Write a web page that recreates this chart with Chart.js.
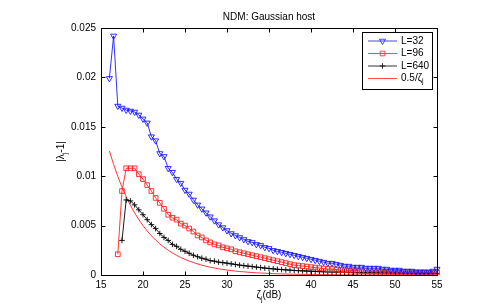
<!DOCTYPE html>
<html>
<head>
<meta charset="utf-8">
<script src="https://cdn.jsdelivr.net/npm/chart.js@4.4.0/dist/chart.umd.min.js"></script>
<style>
    html, body { margin: 0; padding: 0; background: #fff; }
    canvas { display: block; }
</style>
</head>
<body>
<canvas id="c" width="481" height="307"></canvas>
<script>
/* ==================== DATA ==================== */
const titleText = 'NDM: Gaussian host';

const zetaDb = [
    16, 16.5, 17, 17.5, 18, 18.5, 19, 19.5, 20, 20.5,
    21, 21.5, 22, 22.5, 23, 23.5, 24, 24.5, 25, 25.5,
    26, 26.5, 27, 27.5, 28, 28.5, 29, 29.5, 30, 30.5,
    31, 31.5, 32, 32.5, 33, 33.5, 34, 34.5, 35, 35.5,
    36, 36.5, 37, 37.5, 38, 38.5, 39, 39.5, 40, 40.5,
    41, 41.5, 42, 42.5, 43, 43.5, 44, 44.5, 45, 45.5,
    46, 46.5, 47, 47.5, 48, 48.5, 49, 49.5, 50, 50.5,
    51, 51.5, 52, 52.5, 53, 53.5, 54, 54.5, 55
];

const errL32 = [
    0.0199, 0.0242, 0.0171, 0.0169, 0.0167, 0.0166, 0.0165, 0.0162, 0.0158, 0.0154,
    0.0140, 0.0136, 0.0123, 0.0120, 0.0108, 0.0104, 0.0097, 0.0093, 0.0086, 0.0082,
    0.0076, 0.0071, 0.0067, 0.0063, 0.0059, 0.0055, 0.0051, 0.0048, 0.0045, 0.0042,
    0.0040, 0.0038, 0.0036, 0.0034, 0.0033, 0.0031, 0.0030, 0.0028, 0.0027, 0.0025,
    0.0024, 0.0023, 0.0022, 0.0021, 0.0020, 0.0019, 0.0018, 0.0017, 0.0016, 0.0015,
    0.0014, 0.0013, 0.0012, 0.0012, 0.0011, 0.0010, 0.0009, 0.0009, 0.0008, 0.0008,
    0.0008, 0.0007, 0.0007, 0.0007, 0.0007, 0.0006, 0.0006, 0.0005, 0.0005, 0.0005,
    0.0004, 0.0004, 0.0004, 0.0003, 0.0003, 0.0003, 0.0003, 0.0004, 0.0006
];

const errL96 = [
    null, null, 0.0021, 0.0085, 0.0108, 0.0108, 0.0108, 0.0102, 0.0097, 0.0091,
    0.0085, 0.0078, 0.0073, 0.0067, 0.0061, 0.0058, 0.0056, 0.0052, 0.0050, 0.0047,
    0.0044, 0.0040, 0.0038, 0.0035, 0.0033, 0.0031, 0.0030, 0.0028, 0.0027, 0.0026,
    0.0024, 0.0023, 0.0022, 0.0021, 0.0020, 0.0019, 0.0018, 0.0017, 0.0016, 0.0015,
    0.0014, 0.0013, 0.0012, 0.0011, 0.0010, 0.00095, 0.0009, 0.00085, 0.0008, 0.00075,
    0.0007, 0.00065, 0.0006, 0.0006, 0.00055, 0.0005, 0.0005, 0.00047, 0.00045, 0.00042,
    0.0004, 0.00039, 0.00037, 0.00036, 0.00035, 0.00034, 0.00033, 0.00032, 0.00031, 0.0003,
    0.0003, 0.00029, 0.00028, 0.00028, 0.00027, 0.00027, 0.00026, 0.00026, 0.00025
];

const errL640 = [
    null, null, null, 0.0035, 0.0076, 0.0075, 0.0071, 0.0066, 0.0061, 0.0056,
    0.0051, 0.0047, 0.0042, 0.0038, 0.0035, 0.0031, 0.0029, 0.0026, 0.0024, 0.0022,
    0.0020, 0.00185, 0.0017, 0.0016, 0.00145, 0.0014, 0.0013, 0.00125, 0.0012, 0.00113,
    0.00107, 0.0010, 0.00095, 0.0009, 0.00085, 0.0008, 0.00075, 0.0007, 0.00066, 0.00062,
    0.00058, 0.00055, 0.00052, 0.00049, 0.00046, 0.00044, 0.00042, 0.0004, 0.00038, 0.00036,
    0.00034, 0.00033, 0.00032, 0.00031, 0.0003, 0.00029, 0.00028, 0.00027, 0.00026, 0.00025,
    0.00024, 0.00023, 0.00023, 0.00022, 0.00022, 0.00021, 0.00021, 0.0002, 0.0002, 0.0002,
    0.00019, 0.00019, 0.00018, 0.00018, 0.00018, 0.00017, 0.00017, 0.00017, 0.00016
];

// reference curve 0.5/zeta_j
const halfOverZeta = [
    0.01256, 0.0112, 0.00998, 0.00889, 0.00792, 0.00706, 0.00629, 0.00561, 0.0050, 0.00446,
    0.00397, 0.00354, 0.00315, 0.00281, 0.00251, 0.00223, 0.00199, 0.00177, 0.00158, 0.00141,
    0.00126, 0.00112, 0.0010, 0.00089, 0.00079, 0.00071, 0.00063, 0.00056, 0.0005, 0.00045,
    0.0004, 0.00035, 0.00032, 0.00028, 0.00025, 0.00022, 0.0002, 0.00018, 0.00016, 0.00014,
    0.00013, 0.00011, 0.0001, 0.00009, 0.00008, 0.00007, 0.00006, 0.00006, 0.00005, 0.00004,
    0.00004, 0.00004, 0.00003, 0.00003, 0.00003, 0.00002, 0.00002, 0.00002, 0.00002, 0.00001,
    0.00001, 0.00001, 0.00001, 0.00001, 0.00001, 0.00001, 0.00001, 0.00001, 0.00001, 0.00001,
    0.00001, 0.00001, 0.00001, 0.00001, 0.00001, 0.00001, 0.00001, 0.00001, 0.00001
];

const xTickValues = [15, 20, 25, 30, 35, 40, 45, 50, 55];
const yTickValues = [0, 0.005, 0.01, 0.015, 0.02, 0.025];

/* ==================== HELPERS ==================== */
const FONT = "'Liberation Sans', Arial, Helvetica, sans-serif";
const BLUE = '#1a1aff';
const RED = '#ff2020';
const BLACK = '#000';

function toPoints(vals) {
    return zetaDb.map((z, i) => ({ x: z, y: vals[i] })).filter((p) => p.y !== null);
}

// draw text made of [text, isSubscript] parts; x is the centre or left
function drawParts(ctx, parts, x, y, align) {
    const widths = parts.map(([t, sub]) => {
        ctx.font = (sub ? '7px ' : '10px ') + FONT;
        return ctx.measureText(t).width;
    });
    const total = widths.reduce((a, b) => a + b, 0);
    let cx = align === 'center' ? x - total / 2 : x;
    ctx.textAlign = 'left';
    parts.forEach(([t, sub], i) => {
        ctx.font = (sub ? '7px ' : '10px ') + FONT;
        ctx.fillText(t, cx, sub ? y + 3 : y);
        cx += widths[i];
    });
}

/* ==================== FRAME / LEGEND PLUGIN ==================== */
const framePlugin = {
    id: 'frame',
    afterDraw(chart) {
        const { ctx, chartArea: a, scales } = chart;
        const L = Math.round(a.left) + 0.5, R = Math.round(a.right) + 0.5;
        const T = Math.round(a.top) + 0.5, B = Math.round(a.bottom) + 0.5;
        ctx.save();
        ctx.strokeStyle = '#000';
        ctx.lineWidth = 1;
        ctx.strokeRect(L, T, R - L, B - T);

        // inward ticks on all four sides
        ctx.beginPath();
        xTickValues.forEach((v) => {
            const px = Math.round(scales.x.getPixelForValue(v)) + 0.5;
            ctx.moveTo(px, B); ctx.lineTo(px, B - 4);
            ctx.moveTo(px, T); ctx.lineTo(px, T + 4);
        });
        yTickValues.forEach((v) => {
            const py = Math.round(scales.y.getPixelForValue(v)) + 0.5;
            ctx.moveTo(L, py); ctx.lineTo(L + 4, py);
            ctx.moveTo(R, py); ctx.lineTo(R - 4, py);
        });
        ctx.stroke();

        ctx.fillStyle = '#000';
        ctx.textBaseline = 'alphabetic';

        // title
        ctx.font = '10px ' + FONT;
        ctx.textAlign = 'center';
        ctx.fillText(titleText, (a.left + a.right) / 2, 20);

        // x axis title
        drawParts(ctx, [['ζ', false], ['j', true], ['(dB)', false]], (a.left + a.right) / 2, 298, 'center');

        // y axis title
        ctx.save();
        ctx.translate(64, (a.top + a.bottom) / 2);
        ctx.rotate(-Math.PI / 2);
        drawParts(ctx, [['|λ', false], ['j', true], ['-1|', false]], 0, 0, 'center');
        ctx.restore();

        // legend
        const bx = 362.5, by = 32.5, bw = 70, bh = 57;
        ctx.fillStyle = '#fff';
        ctx.fillRect(bx, by, bw, bh);
        ctx.strokeStyle = '#000';
        ctx.strokeRect(bx, by, bw, bh);
        const rows = [
            { label: [['L=32', false]], color: BLUE, style: 'triangle', rot: 180, r: 3.5 },
            { label: [['L=96', false]], color: RED, style: 'rect', rot: 0, r: 3.3 },
            { label: [['L=640', false]], color: BLACK, style: 'cross', rot: 0, r: 2.8 },
            { label: [['0.5/ζ', false], ['j', true]], color: RED, style: null },
        ];
        rows.forEach((row, i) => {
            const ry = 41 + i * 12.5;
            ctx.strokeStyle = row.color;
            ctx.lineWidth = 0.8;
            ctx.beginPath();
            ctx.moveTo(368, ry); ctx.lineTo(397, ry);
            ctx.stroke();
            if (row.style) {
                ctx.fillStyle = 'rgba(0,0,0,0)';
                Chart.helpers.drawPoint(ctx, { pointStyle: row.style, rotation: row.rot, radius: row.r, borderWidth: 1 }, 382.5, ry);
            }
            ctx.fillStyle = '#000';
            ctx.textBaseline = 'middle';
            drawParts(ctx, row.label, 401, ry, 'left');
            ctx.textBaseline = 'alphabetic';
        });
        ctx.restore();
    },
};

/* ==================== CHART ==================== */
const tickFont = { family: FONT, size: 10 };

new Chart(document.getElementById('c'), {
    type: 'line',
    data: {
        datasets: [
            {
                label: 'L=32', data: toPoints(errL32),
                borderColor: BLUE, borderWidth: 0.9,
                pointStyle: 'triangle', pointRotation: 180, pointRadius: 3.5,
                pointBorderColor: BLUE, pointBackgroundColor: 'rgba(0,0,0,0)', pointBorderWidth: 0.9,
            },
            {
                label: 'L=96', data: toPoints(errL96),
                borderColor: RED, borderWidth: 0.9,
                pointStyle: 'rect', pointRadius: 3.3,
                pointBorderColor: RED, pointBackgroundColor: 'rgba(0,0,0,0)', pointBorderWidth: 0.9,
            },
            {
                label: 'L=640', data: toPoints(errL640),
                borderColor: BLACK, borderWidth: 0.9,
                pointStyle: 'cross', pointRadius: 2.8,
                pointBorderColor: BLACK, pointBorderWidth: 0.9,
            },
            {
                label: '0.5/ζj', data: toPoints(halfOverZeta),
                borderColor: RED, borderWidth: 0.9,
                pointRadius: 0,
            },
        ],
    },
    options: {
        responsive: false,
        animation: false,
        devicePixelRatio: 1,
        clip: false,
        layout: { padding: { left: 61, right: 44, top: 28, bottom: 12 } },
        plugins: {
            legend: { display: false },
            title: { display: false },
            tooltip: { enabled: false },
        },
        scales: {
            x: {
                type: 'linear', min: 15, max: 55,
                afterFit: (s) => { s.height = 20; },
                afterBuildTicks: (s) => { s.ticks = xTickValues.map((v) => ({ value: v })); },
                grid: { display: false, drawTicks: false },
                border: { display: false },
                ticks: { color: '#000', font: tickFont, padding: 4, maxRotation: 0 },
            },
            y: {
                type: 'linear', min: 0, max: 0.025,
                afterFit: (s) => { s.width = 40; },
                afterBuildTicks: (s) => { s.ticks = yTickValues.map((v) => ({ value: v })); },
                grid: { display: false, drawTicks: false },
                border: { display: false },
                ticks: {
                    color: '#000', font: tickFont, padding: 5,
                    callback: (v) => String(parseFloat(Number(v).toFixed(3))),
                },
            },
        },
    },
    plugins: [framePlugin],
});
</script>
</body>
</html>
